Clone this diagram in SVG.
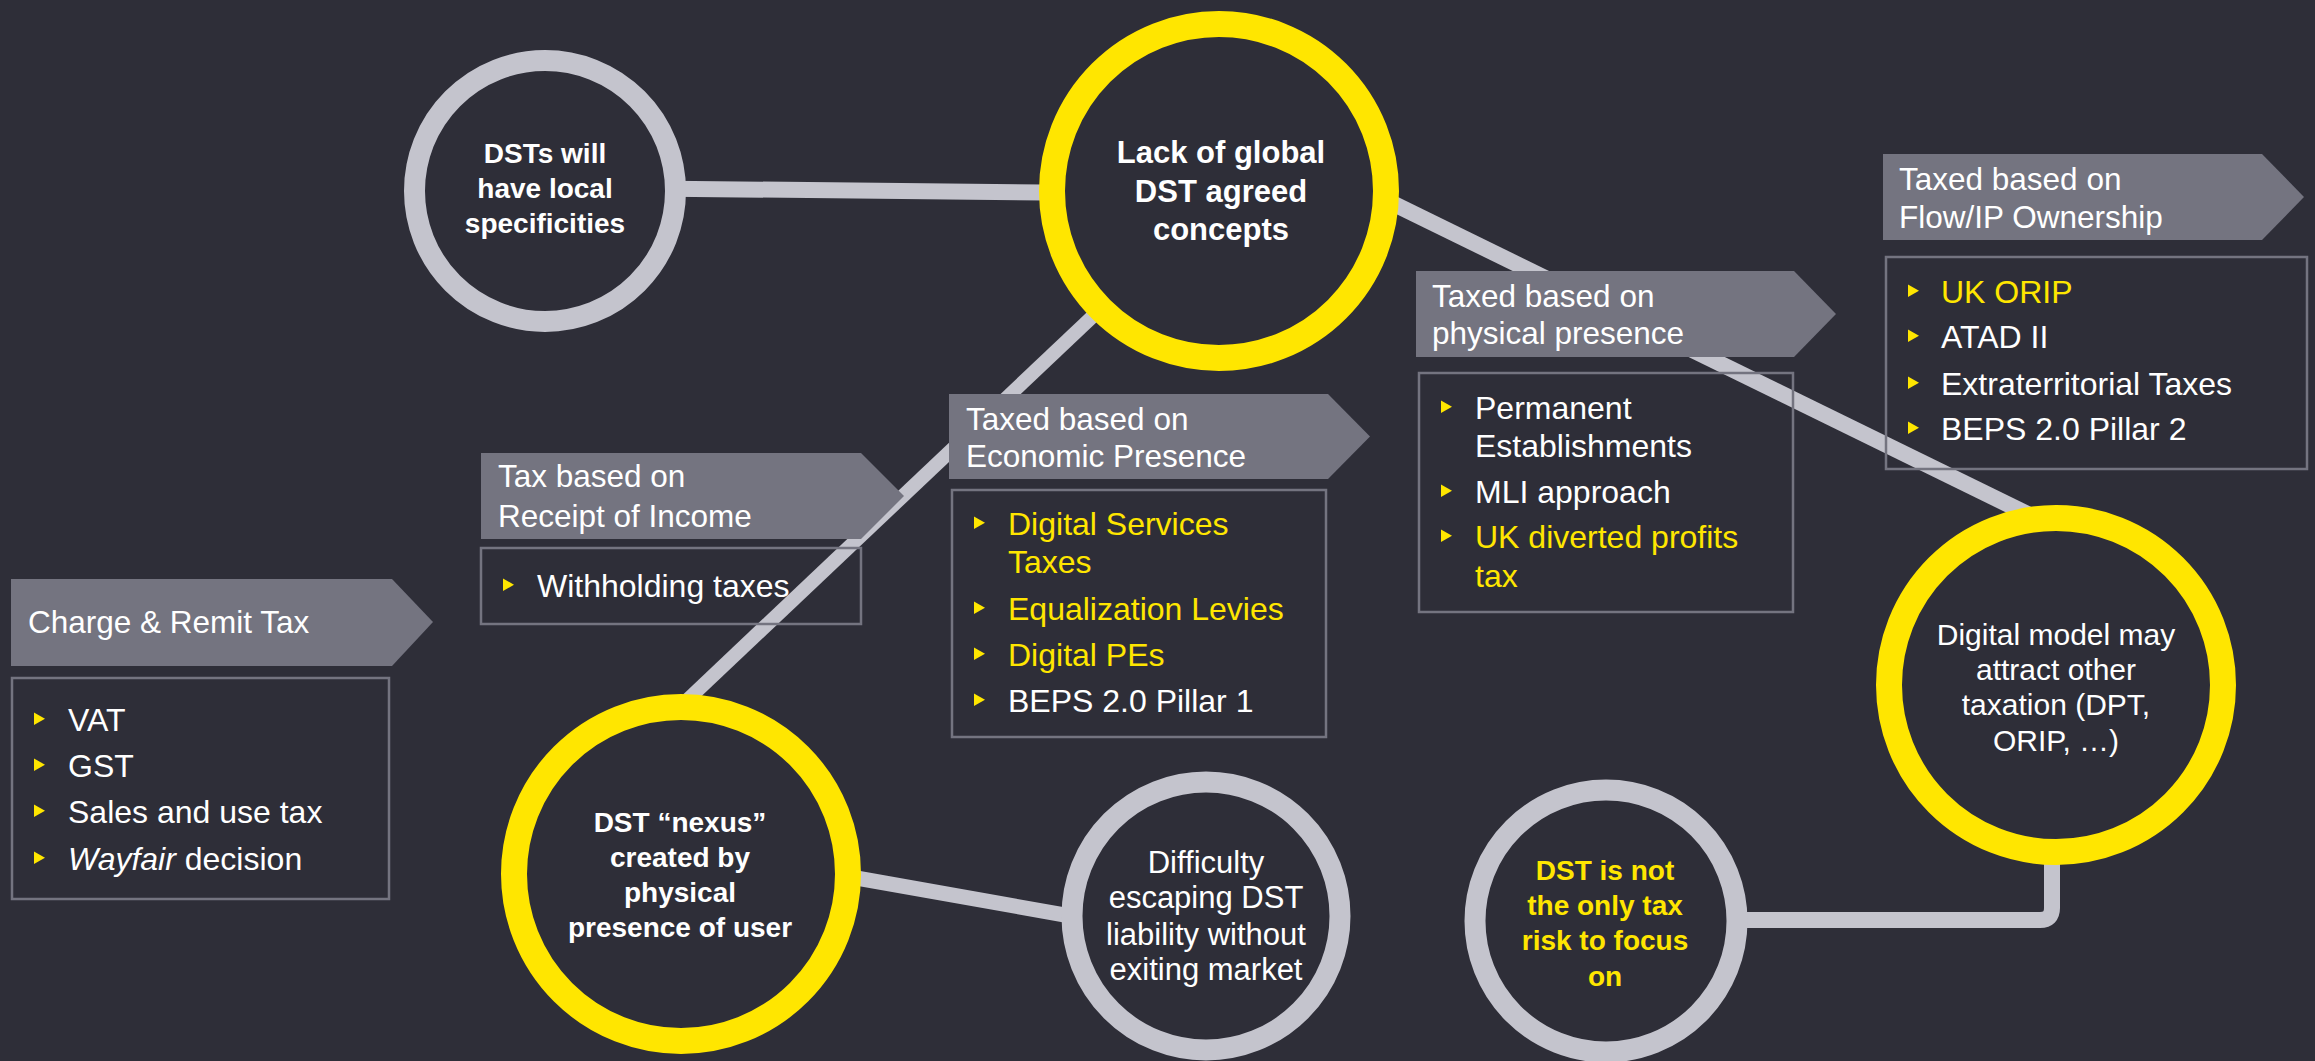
<svg xmlns="http://www.w3.org/2000/svg" xmlns:xlink="http://www.w3.org/1999/xlink" width="2315" height="1061" viewBox="0 0 2315 1061">
<style>
text{font-family:"Liberation Sans",Arial,sans-serif;}
.hdr{fill:#747480;}
.hdrt{fill:#ffffff;font-size:31.5px;}
.box{fill:none;stroke:#747480;stroke-width:2.5;}
.li{fill:#ffffff;font-size:32px;}
.ly{fill:#ffe600;font-size:32px;}
.bul{fill:#ffe600;}
.cg{fill:#2e2e38;stroke:#c4c4cd;stroke-width:21;}
.cy{fill:#2e2e38;stroke:#ffe600;stroke-width:26;}
.tb{fill:#ffffff;font-weight:bold;font-size:28px;text-anchor:middle;}
.tb31{font-size:31px;}
.tr{fill:#ffffff;font-size:30px;text-anchor:middle;}
.tr31{font-size:31px;}
.ty{fill:#ffe600;font-weight:bold;font-size:28px;text-anchor:middle;}
.con{fill:none;stroke:#c4c4cd;}
</style>
<defs>
<path id="b" class="bul" d="M0,-18.5 L11,-12.3 L0,-6 Z"/>
</defs>
<rect width="2315" height="1061" fill="#2e2e38"/>

<g id="connectors">
<line class="con" x1="600" y1="188" x2="1100" y2="193" stroke-width="16"/>
<line class="con" x1="1300" y1="158" x2="2056" y2="528" stroke-width="16"/>
<line class="con" x1="681" y1="706" x2="1110" y2="300" stroke-width="14"/>
<line class="con" x1="800" y1="868" x2="1110" y2="923" stroke-width="15"/>
<path class="con" d="M1700,920 H2040 Q2052,920 2052,908 V820" stroke-width="16"/>
</g>

<g id="box-charge">
<polygon class="hdr" points="11,579 392,579 433,622 392,666 11,666"/>
<text class="hdrt" x="28" y="633">Charge &amp; Remit Tax</text>
<rect class="box" x="12" y="678" width="377" height="221"/>
<use xlink:href="#b" x="34" y="731"/><text class="li" x="68" y="731">VAT</text>
<use xlink:href="#b" x="34" y="777"/><text class="li" x="68" y="777">GST</text>
<use xlink:href="#b" x="34" y="823"/><text class="li" x="68" y="823">Sales and use tax</text>
<use xlink:href="#b" x="34" y="870"/><text class="li" x="68" y="870"><tspan font-style="italic">Wayfair</tspan> decision</text>
</g>

<g id="box-receipt">
<polygon class="hdr" points="481,453 861,453 904,496 861,539 481,539"/>
<text class="hdrt" x="498" y="487">Tax based on</text>
<text class="hdrt" x="498" y="527">Receipt of Income</text>
<rect class="box" x="481" y="548" width="380" height="76"/>
<use xlink:href="#b" x="503" y="597"/><text class="li" x="537" y="597">Withholding taxes</text>
</g>

<g id="box-economic">
<polygon class="hdr" points="949,394 1328,394 1370,436.5 1328,479 949,479"/>
<text class="hdrt" x="966" y="430">Taxed based on</text>
<text class="hdrt" x="966" y="467">Economic Presence</text>
<rect class="box" x="952" y="490" width="374" height="247"/>
<use xlink:href="#b" x="974" y="535"/><text class="ly" x="1008" y="535">Digital Services</text>
<text class="ly" x="1008" y="573">Taxes</text>
<use xlink:href="#b" x="974" y="620"/><text class="ly" x="1008" y="620">Equalization Levies</text>
<use xlink:href="#b" x="974" y="666"/><text class="ly" x="1008" y="666">Digital PEs</text>
<use xlink:href="#b" x="974" y="712"/><text class="li" x="1008" y="712">BEPS 2.0 Pillar 1</text>
</g>

<g id="box-physical">
<polygon class="hdr" points="1416,271 1794,271 1836,314 1794,357 1416,357"/>
<text class="hdrt" x="1432" y="307">Taxed based on</text>
<text class="hdrt" x="1432" y="344">physical presence</text>
<rect class="box" x="1419" y="373" width="374" height="239"/>
<use xlink:href="#b" x="1441" y="419"/><text class="li" x="1475" y="419">Permanent</text>
<text class="li" x="1475" y="457">Establishments</text>
<use xlink:href="#b" x="1441" y="503"/><text class="li" x="1475" y="503">MLI approach</text>
<use xlink:href="#b" x="1441" y="548"/><text class="ly" x="1475" y="548">UK diverted profits</text>
<text class="ly" x="1475" y="587">tax</text>
</g>

<g id="box-flow">
<polygon class="hdr" points="1883,154 2262,154 2304,197 2262,240 1883,240"/>
<text class="hdrt" x="1899" y="190">Taxed based on</text>
<text class="hdrt" x="1899" y="228">Flow/IP Ownership</text>
<rect class="box" x="1886" y="257" width="421" height="212"/>
<use xlink:href="#b" x="1908" y="303"/><text class="ly" x="1941" y="303">UK ORIP</text>
<use xlink:href="#b" x="1908" y="348"/><text class="li" x="1941" y="348">ATAD II</text>
<use xlink:href="#b" x="1908" y="395"/><text class="li" x="1941" y="395">Extraterritorial Taxes</text>
<use xlink:href="#b" x="1908" y="440"/><text class="li" x="1941" y="440">BEPS 2.0 Pillar 2</text>
</g>

<g id="node-local">
<circle class="cg" cx="545" cy="191" r="130.5"/>
<text class="tb" x="545" y="163">DSTs will</text>
<text class="tb" x="545" y="198">have local</text>
<text class="tb" x="545" y="233">specificities</text>
</g>

<g id="node-lack">
<circle class="cy" cx="1219" cy="191" r="167"/>
<text class="tb tb31" x="1221" y="163">Lack of global</text>
<text class="tb tb31" x="1221" y="202">DST agreed</text>
<text class="tb tb31" x="1221" y="240">concepts</text>
</g>

<g id="node-nexus">
<circle class="cy" cx="681" cy="874" r="167"/>
<text class="tb" x="680" y="832">DST “nexus”</text>
<text class="tb" x="680" y="867">created by</text>
<text class="tb" x="680" y="902">physical</text>
<text class="tb" x="680" y="937">presence of user</text>
</g>

<g id="node-difficulty">
<circle class="cg" cx="1206" cy="916" r="134" stroke-width="20"/>
<text class="tr tr31" x="1206" y="873">Difficulty</text>
<text class="tr tr31" x="1206" y="908">escaping DST</text>
<text class="tr tr31" x="1206" y="945">liability without</text>
<text class="tr tr31" x="1206" y="980">exiting market</text>
</g>

<g id="node-notonly">
<circle class="cg" cx="1606" cy="921" r="131" stroke-width="20"/>
<text class="ty" x="1605" y="880">DST is not</text>
<text class="ty" x="1605" y="915">the only tax</text>
<text class="ty" x="1605" y="950">risk to focus</text>
<text class="ty" x="1605" y="986">on</text>
</g>

<g id="node-digital">
<circle class="cy" cx="2056" cy="685" r="167"/>
<text class="tr" x="2056" y="645">Digital model may</text>
<text class="tr" x="2056" y="680">attract other</text>
<text class="tr" x="2056" y="715">taxation (DPT,</text>
<text class="tr" x="2056" y="751">ORIP, …)</text>
</g>
</svg>
